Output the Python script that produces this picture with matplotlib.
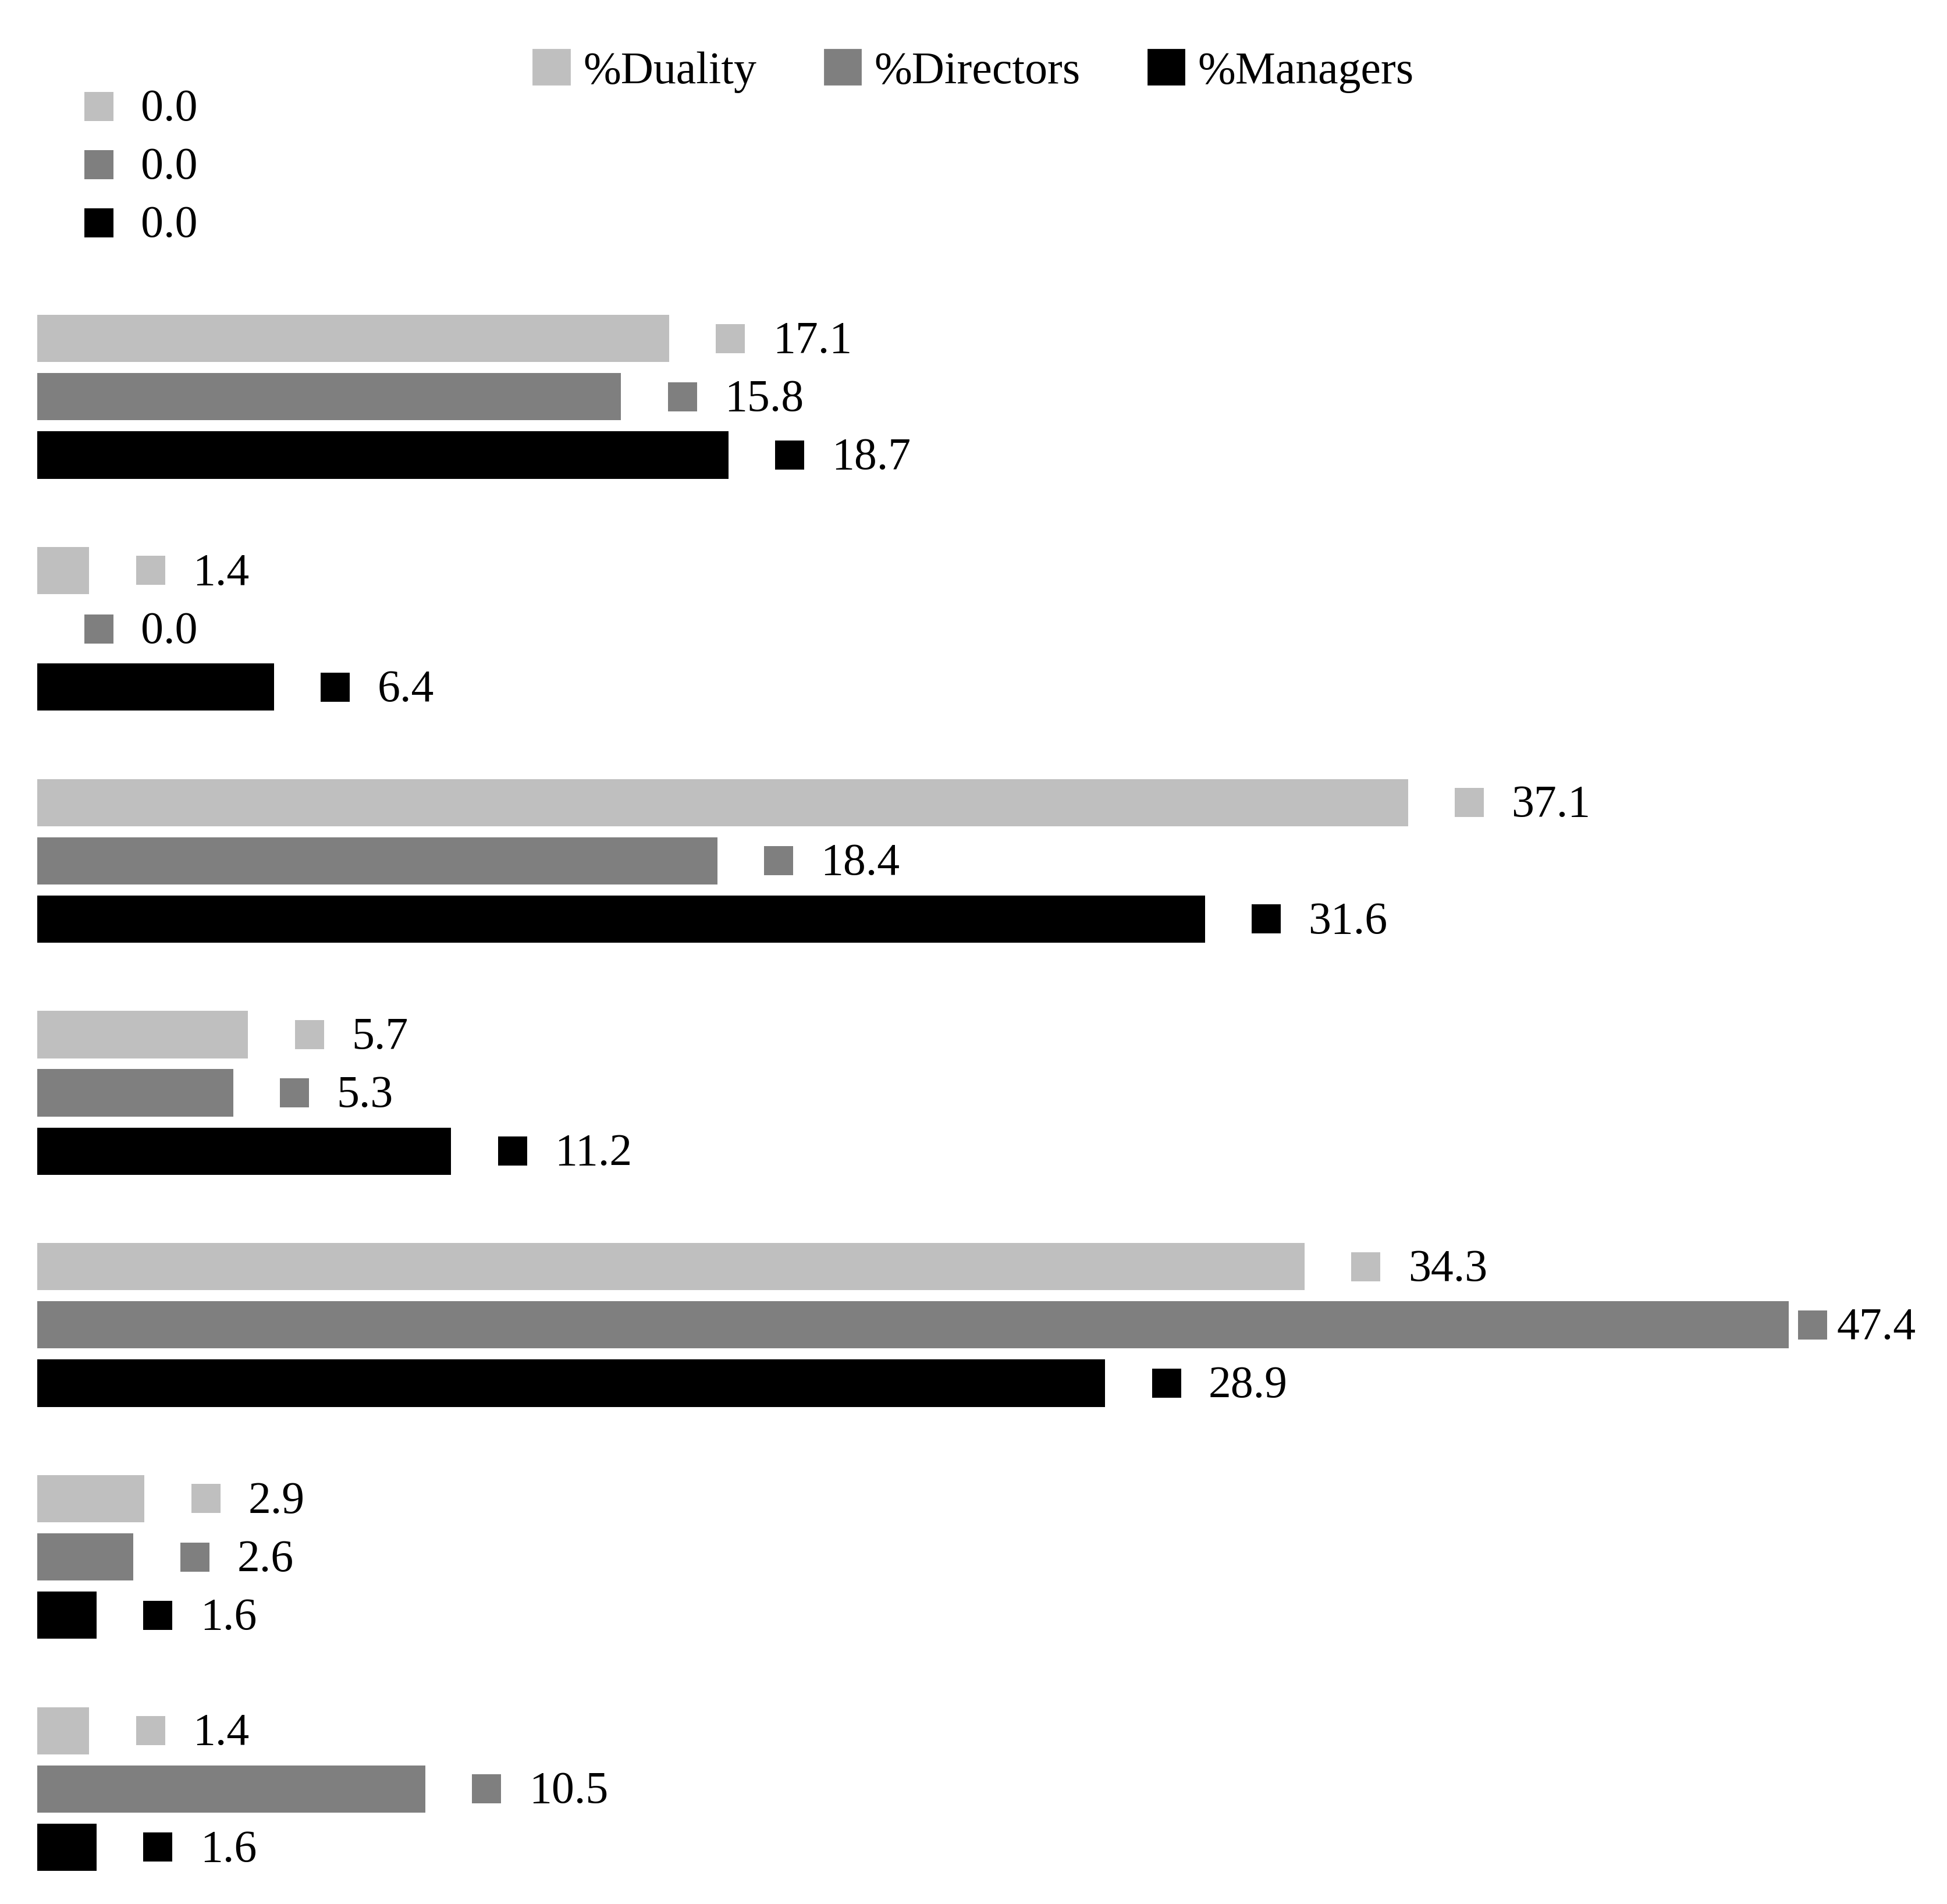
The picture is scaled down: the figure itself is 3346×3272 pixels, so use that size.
import matplotlib.pyplot as plt
from matplotlib.patches import Patch

series = ['%Duality', '%Directors', '%Managers']
colors = ['#bfbfbf', '#7f7f7f', '#000000']
duality = [0.0, 17.1, 1.4, 37.1, 5.7, 34.3, 2.9, 1.4]
directors = [0.0, 15.8, 0.0, 18.4, 5.3, 47.4, 2.6, 10.5]
managers = [0.0, 18.7, 6.4, 31.6, 11.2, 28.9, 1.6, 1.6]
values = [duality, directors, managers]

plt.rcParams['font.family'] = ['Liberation Serif', 'DejaVu Serif']

fig = plt.figure(figsize=(16.73, 16.365), dpi=200)
ax = fig.add_axes([0, 0, 1, 1])
ax.set_xlim(-30 / 29.6, (1560 - 30) / 29.6)
ax.set_ylim(1530, 0)
ax.axis('off')

for g in range(len(duality)):
    for k in range(3):
        v = values[k][g]
        y = 86 + g * 186.4 + k * 46.8
        ax.barh(y, v, height=38, color=colors[k], left=0)
        mx = min(v + 1.66, 48.05)
        tx = min(v + 2.8, 48.7)
        ax.scatter([mx], [y], marker='s', s=330, color=colors[k], linewidths=0)
        ax.text(tx, y + 2, f'{v:.1f}', va='center', ha='left', fontsize=28)

handles = [Patch(color=c, label=s) for c, s in zip(colors, series)]
ax.legend(handles=handles, loc='upper center', bbox_to_anchor=(0.5, 0.995), ncol=3,
          frameon=False, fontsize=28, handlelength=0.8, handleheight=0.8,
          handletextpad=0.3, columnspacing=1.5)

fig.savefig('out.png', dpi=200)
